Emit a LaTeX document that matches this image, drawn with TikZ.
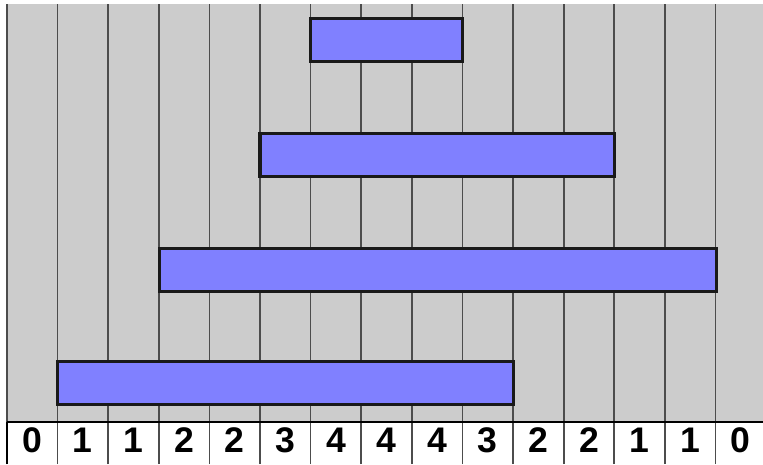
\documentclass[tikz,border=0pt]{standalone}
\usepackage{fontspec}
\setmainfont{Liberation Sans}
\usetikzlibrary{positioning}
\begin{document}
\begin{tikzpicture}[
    bar/.style={draw=black!90,line width=1.7pt,fill=blue!50,minimum height=0.85cm,inner sep=0pt,anchor=south west},
    gridline/.style={draw=black!70,line width=1pt},
    count/.style={font=\bfseries\fontsize{20}{20}\selectfont,minimum width=1cm,inner sep=0pt}
]
\useasboundingbox (-0.138,0) rectangle (14.94,9.17);
% Background and counting row
\fill[gray!40] (0,0.83) rectangle (14.94,9.09);
\fill[white] (0,0) rectangle (14.94,0.83);

% Grid
\foreach \i in {0,...,14}
    \draw[gridline] (\i,0) -- (\i,9.09);
\draw[line width=1.6pt] (0,0.83) -- (14.94,0.83);
\draw[line width=1.6pt] (0,0) -- (0,0.83);

% Intervals
\node[bar,minimum width=3cm] (top) at (5.97,7.93) {};
\node[bar,minimum width=7cm] (upper) at (4.97,5.65) {};
\node[bar,minimum width=11cm] (lower) at (2.99,3.38) {};
\node[bar,minimum width=9cm] (bottom) at (0.97,1.15) {};

% Overlap counts
\foreach \n [count=\i from 0] in {0,1,1,2,2,3,4,4,4,3,2,2,1,1,0}
    \node[count] (c\i) at (\i+0.5,0.47) {\n};
\end{tikzpicture}
\end{document}
